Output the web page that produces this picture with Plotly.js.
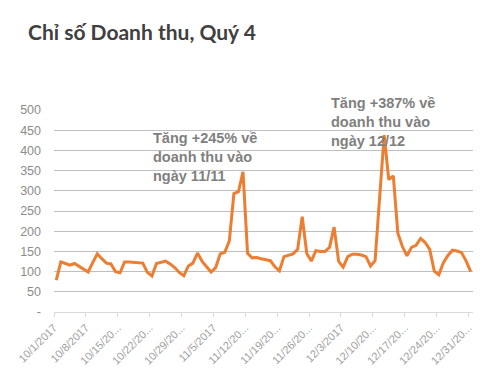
<!DOCTYPE html>
<html>
<head>
<meta charset="utf-8">
<script src="https://cdn.plot.ly/plotly-3.0.1.min.js"></script>
<style>
html,body{margin:0;padding:0;background:#fff;}
#chart{width:500px;height:382px;}
</style>
</head>
<body>
<div id="chart"></div>
<script>
// Daily revenue index, 10/1/2017 .. 12/31/2017
const revenueIndex = [
  79,124,120,116,120,113,106,99,122,144,
  132,121,119,100,97,124,124,123,121,121,
  98,89,120,123,126,119,110,98,90,114,
  121,146,126,112,99,110,144,148,176,293,
  298,347,145,134,135,132,129,127,112,102,
  137,141,144,155,236,145,126,152,150,150,
  160,210,125,111,137,143,143,141,137,114,
  127,283,438,328,337,195,162,139,160,165,
  182,172,155,101,92,122,140,153,151,147,
  126,100
];
const weekTickLabels = ["10/1/2017","10/8/2017","10/15/20...","10/22/20...","10/29/20...","11/5/2017","11/12/20...","11/19/20...","11/26/20...","12/3/2017","12/10/20...","12/17/20...","12/24/20...","12/31/20..."];
const yTickValues = [0,50,100,150,200,250,300,350,400,450,500];
const yTickLabels = ["-","50","100","150","200","250","300","350","400","450","500"];
const titleText = "Chỉ số Doanh thu, Quý 4";
const note1 = "Tăng +245% về<br>doanh thu vào<br>ngày 11/11";
const note2 = "Tăng +387% về<br>doanh thu vào<br>ngày 12/12";

const dayIdx = revenueIndex.map((_, i) => i);
const tickPos = weekTickLabels.map((_, i) => i * 7 - 0.5);

const trace = {
  x: dayIdx, y: revenueIndex, type: 'scatter', mode: 'lines',
  line: {color: '#ED7D31', width: 3}, hoverinfo: 'skip'
};

const layout = {
  width: 500, height: 382,
  margin: {l: 54, r: 27, t: 110, b: 70},
  paper_bgcolor: '#fff', plot_bgcolor: '#fff',
  showlegend: false,
  title: {text: '<b>' + titleText + '</b>', x: 28/500, xanchor: 'left', y: 1 - 33/382, yanchor: 'middle',
          font: {family: 'Lato, "Open Sans", Arial, sans-serif', size: 21, color: '#404040'}},
  xaxis: {
    range: [-0.5, revenueIndex.length - 0.5],
    tickmode: 'array', tickvals: tickPos, ticktext: weekTickLabels,
    tickangle: -45, ticks: 'outside', ticklen: 4, tickcolor: '#d9d9d9',
    showline: true, linecolor: '#d9d9d9', linewidth: 1,
    showgrid: false, zeroline: false,
    tickfont: {family: 'Arial, "Liberation Sans", sans-serif', size: 11, color: '#a0a0a0'}
  },
  yaxis: {
    range: [0, 500],
    tickmode: 'array', tickvals: yTickValues, ticktext: yTickLabels,
    showgrid: true, gridcolor: '#bfbfbf', gridwidth: 1,
    zeroline: false, showline: false, ticks: '',
    ticklabelstandoff: 12,
    tickfont: {family: 'Arial, "Liberation Sans", sans-serif', size: 12.5, color: '#8c8c8c'}
  },
  annotations: [
    {text: '<b>' + note1 + '</b>', xref: 'paper', yref: 'paper', x: (151-54)/419, y: (312-128)/202,
     xanchor: 'left', yanchor: 'top', align: 'left', showarrow: false,
     font: {family: 'Arial, "Liberation Sans", sans-serif', size: 14.5, color: '#808080'}},
    {text: '<b>' + note2 + '</b>', xref: 'paper', yref: 'paper', x: (329-54)/419, y: (312-93)/202,
     xanchor: 'left', yanchor: 'top', align: 'left', showarrow: false,
     font: {family: 'Arial, "Liberation Sans", sans-serif', size: 14.5, color: '#808080'}}
  ]
};

Plotly.newPlot('chart', [trace], layout, {staticPlot: true, displayModeBar: false});
</script>
</body>
</html>
